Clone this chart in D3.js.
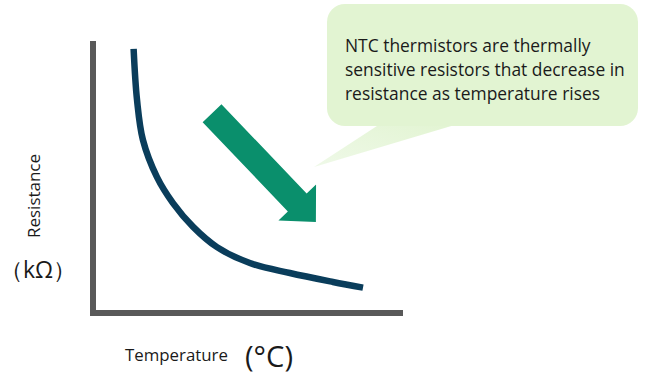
<!DOCTYPE html>
<html>
<head>
<meta charset="utf-8">
<script src="https://cdn.jsdelivr.net/npm/d3@7"></script>
<style>
  body { margin: 0; background: #fff; }
  svg { display: block; }
  text { font-family: "Open Sans", "Noto Sans", sans-serif; }
</style>
</head>
<body>
<script>
// NTC thermistor curve: resistance falls as temperature rises
const width = 647, height = 377;

const temperature = [13.1, 14.2, 16.1, 20.6, 25.8, 32.3, 40, 50.6, 63.5, 77.4, 87.1];
const resistance = [97.8, 78.9, 64.1, 50.4, 40.7, 31.9, 24.4, 18.5, 14.8, 11.5, 9.4];

const noteLines = [
    "NTC thermistors are thermally",
    "sensitive resistors that decrease in",
    "resistance as temperature rises"
];

// arrow drawn in data units: tail -> tip
const arrowFrom = { t: 38.4, r: 74 };
const arrowTo = { t: 71.9, r: 33.7 };

const x = d3.scaleLinear().domain([0, 100]).range([93, 403]);
const y = d3.scaleLinear().domain([0, 100]).range([313, 43]);

const svg = d3.select("body").append("svg")
    .attr("width", width)
    .attr("height", height);

// scale a text's font size so it spans the wanted width
function fit(sel, size, w) {
    let widest = 0;
    sel.attr("font-size", size).each(function () {
        widest = Math.max(widest, this.getComputedTextLength());
    });
    sel.attr("font-size", size * w / widest);
}

// callout bubble
const defs = svg.append("defs");
const grad = defs.append("linearGradient")
    .attr("id", "tailFade")
    .attr("x1", "1").attr("y1", "0")
    .attr("x2", "0").attr("y2", "1");
grad.append("stop").attr("offset", "0%").attr("stop-color", "#e2f4d2");
grad.append("stop").attr("offset", "100%").attr("stop-color", "#eff9e8");

svg.append("path")
    .attr("d", "M380,124 L458,124 L314,167 Z")
    .attr("fill", "url(#tailFade)");

svg.append("rect")
    .attr("x", 327).attr("y", 4)
    .attr("width", 311).attr("height", 122)
    .attr("rx", 18)
    .attr("fill", "#e2f4d2");

const note = svg.append("g").selectAll("text")
    .data(noteLines)
    .enter().append("text")
    .attr("x", 345)
    .attr("y", (d, i) => 52 + i * 24)
    .attr("fill", "#1a1a1a")
    .text(d => d);
fit(note, 17, 280);

// axes (plain L shape, no ticks)
svg.append("line")
    .attr("x1", x(0)).attr("y1", y(100) - 2)
    .attr("x2", x(0)).attr("y2", y(0) + 3)
    .attr("stroke", "#595959")
    .attr("stroke-width", 6);

svg.append("line")
    .attr("x1", x(0) - 3).attr("y1", y(0))
    .attr("x2", x(100)).attr("y2", y(0))
    .attr("stroke", "#595959")
    .attr("stroke-width", 6);

// curve
const line = d3.line()
    .x(d => x(d[0]))
    .y(d => y(d[1]))
    .curve(d3.curveCatmullRom.alpha(0.5));

svg.append("path")
    .datum(d3.zip(temperature, resistance))
    .attr("d", line)
    .attr("fill", "none")
    .attr("stroke", "#0a3d5b")
    .attr("stroke-width", 6.5);

// green arrow
const x0 = x(arrowFrom.t), y0 = y(arrowFrom.r);
const x1 = x(arrowTo.t), y1 = y(arrowTo.r);
const len = Math.hypot(x1 - x0, y1 - y0);
const ang = Math.atan2(y1 - y0, x1 - x0) * 180 / Math.PI;
const shaftW = 13, headW = 26, headL = 27;
svg.append("path")
    .attr("transform", `translate(${x0},${y0}) rotate(${ang})`)
    .attr("d", `M0,${-shaftW} L${len - headL},${-shaftW} L${len - headL},${-headW}
                L${len},0 L${len - headL},${headW} L${len - headL},${shaftW} L0,${shaftW} Z`)
    .attr("fill", "#0a8f6c");

// axis titles
fit(svg.append("text")
    .attr("transform", "translate(40,196) rotate(-90)")
    .attr("text-anchor", "middle")
    .attr("fill", "#1a1a1a")
    .text("Resistance"), 15, 84);

svg.append("text")
    .attr("x", 0).attr("y", 278)
    .attr("font-family", "'Noto Sans CJK JP', sans-serif")
    .attr("font-size", 23)
    .attr("fill", "#1a1a1a")
    .text("（kΩ）");

fit(svg.append("text")
    .attr("x", 125).attr("y", 361)
    .attr("fill", "#1a1a1a")
    .text("Temperature"), 15, 103);

fit(svg.append("text")
    .attr("x", 269).attr("y", 367)
    .attr("text-anchor", "middle")
    .attr("fill", "#1a1a1a")
    .text("(°C)"), 25, 48);
</script>
</body>
</html>
